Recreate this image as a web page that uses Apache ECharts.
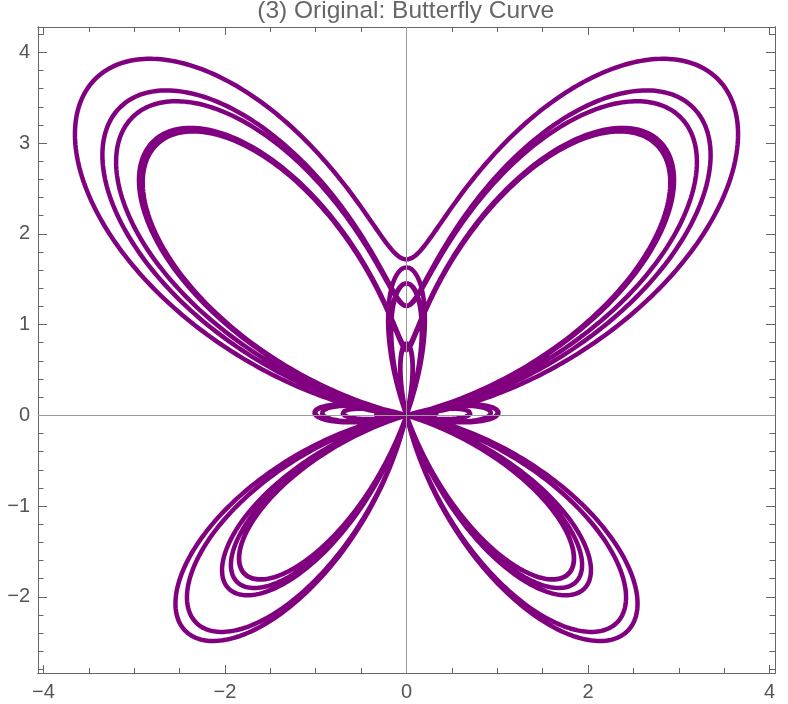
<!DOCTYPE html>
<html>
<head>
<meta charset="utf-8">
<script src="https://cdn.jsdelivr.net/npm/echarts@6/dist/echarts.min.js"></script>
<style>html,body{margin:0;padding:0;background:#fff}#c{width:788px;height:704px}</style>
</head>
<body>
<div id="c"></div>
<script>
// Chart text and ticks
const titleText = '(3) Original: Butterfly Curve';
const xMajorTicks = [-4, -2, 0, 2, 4];
const xMinorTicks = [-4, -3.5, -3, -2.5, -2, -1.5, -1, -0.5, 0, 0.5, 1, 1.5, 2, 2.5, 3, 3.5, 4];
const yMajorTicks = [-2, -1, 0, 1, 2, 3, 4];
const yMinorTicks = [-2.8, -2.6, -2.4, -2.2, -2, -1.8, -1.6, -1.4, -1.2, -1, -0.8, -0.6, -0.4, -0.2, 0,
  0.2, 0.4, 0.6, 0.8, 1, 1.2, 1.4, 1.6, 1.8, 2, 2.2, 2.4, 2.6, 2.8, 3, 3.2, 3.4, 3.6, 3.8, 4, 4.2];
const xRange = [-4.06, 4.06];
const yRange = [-2.84, 4.28];
// Curve definition (the plotted butterfly curve, parameter t over [0, 12*pi])
const tRange = [0, 12 * Math.PI];
const tSamples = [6000];

const curve = [];
for (let i = 0; i <= tSamples[0]; i++) {
  const t = tRange[0] + (tRange[1] - tRange[0]) * i / tSamples[0];
  const r = Math.exp(Math.cos(t)) - 2 * Math.cos(4 * t) + Math.pow(Math.sin(t / 12), 5);
  curve.push([Math.sin(t) * r, Math.cos(t) * r]);
}

const frameColor = '#666';
const labelColor = '#555';
const fmt = v => (v < 0 ? '\u2212' + Math.abs(v) : String(v));
const font = 'Liberation Sans, Arial, sans-serif';

function xAx(pos, ticks, len, labels) {
  return {
    type: 'value', position: pos, min: xRange[0], max: xRange[1], gridIndex: 0,
    axisLine: { show: true, onZero: false, lineStyle: { color: frameColor, width: 1 } },
    axisTick: { show: true, inside: true, length: len, customValues: ticks, lineStyle: { color: frameColor, width: 1 } },
    axisLabel: labels ? { show: true, customValues: ticks, formatter: fmt, color: labelColor, fontSize: 20, fontFamily: font, margin: 9 } : { show: false },
    splitLine: { show: false }
  };
}
function yAx(pos, ticks, len, labels) {
  return {
    type: 'value', position: pos, min: yRange[0], max: yRange[1], gridIndex: 0,
    axisLine: { show: true, onZero: false, lineStyle: { color: frameColor, width: 1 } },
    axisTick: { show: true, inside: true, length: len, customValues: ticks, lineStyle: { color: frameColor, width: 1 } },
    axisLabel: labels ? { show: true, customValues: ticks, formatter: fmt, color: labelColor, fontSize: 20, fontFamily: font, margin: 8 } : { show: false },
    splitLine: { show: false }
  };
}

const chart = echarts.init(document.getElementById('c'), null, { renderer: 'canvas' });
chart.setOption({
  animation: false,
  backgroundColor: '#fff',
  grid: { left: 38, right: 13, top: 27, bottom: 31, containLabel: false },
  xAxis: [
    xAx('bottom', xMajorTicks, 8, true),
    xAx('bottom', xMinorTicks, 5, false),
    xAx('top', xMajorTicks, 8, false),
    xAx('top', xMinorTicks, 5, false)
  ],
  yAxis: [
    yAx('left', yMajorTicks, 9, true),
    yAx('left', yMinorTicks, 5.5, false),
    yAx('right', yMajorTicks, 9, false),
    yAx('right', yMinorTicks, 5.5, false)
  ],
  graphic: [{
    type: 'text', x: 405.7, y: 11, z: 10,
    style: { text: titleText, textAlign: 'center', textVerticalAlign: 'middle', fontSize: 24.5, fontFamily: font, fill: '#666' }
  }],
  series: [{
    type: 'line',
    data: curve,
    xAxisIndex: 0, yAxisIndex: 0,
    showSymbol: false, symbol: 'none',
    clip: true,
    lineStyle: { color: '#800080', width: 4.5, cap: 'round', join: 'round' },
    silent: true,
    markLine: {
      silent: true, symbol: 'none', animation: false,
      label: { show: false },
      lineStyle: { color: '#999', width: 1, type: 'solid' },
      data: [{ xAxis: 0 }, { yAxis: 0 }]
    }
  }]
});
</script>
</body>
</html>
